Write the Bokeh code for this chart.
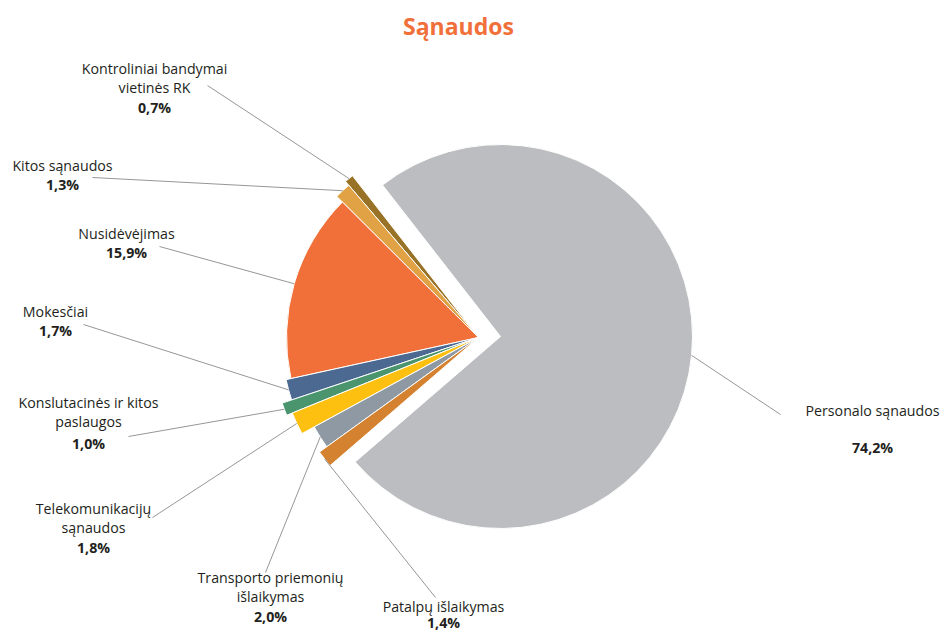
import math
from bokeh.plotting import figure
from bokeh.models import Range1d
from bokeh.core.properties import value
from bokeh.embed import file_html
from bokeh.resources import INLINE

# ---- data (counter-clockwise order, starting with the large slice) ----
title = "Sąnaudos"
categories = [
    ["Personalo sąnaudos"],
    ["Kontroliniai bandymai", "vietinės RK"],
    ["Kitos sąnaudos"],
    ["Nusidėvėjimas"],
    ["Mokesčiai"],
    ["Konslutacinės ir kitos", "paslaugos"],
    ["Telekomunikacijų", "sąnaudos"],
    ["Transporto priemonių", "išlaikymas"],
    ["Patalpų išlaikymas"],
]
shares = [74.2, 0.7, 1.3, 15.9, 1.7, 1.0, 1.8, 2.0, 1.4]

# ---- styling / layout ----
colors = ["#BCBDC1", "#977227", "#E0A244", "#F1703A", "#4C6A91",
          "#4A956E", "#FDC010", "#8E99A3", "#D4822F"]
W, H = 941, 633
def sy(y):
    return H - y

# apex of each wedge (screen px) and radius
apex = [(500, 336)] + [(478, 337)] * 8
radii = [192, 205, 200, 192, 197, 207, 201, 187, 196]
start_deg = 220.8

# label layout: centre x, first-line y, percentage y, leader end point
label_x = [872, 154, 62, 126, 55, 88, 93, 270, 443]
name_y = [410, 68, 165, 233, 311, 402, 508, 577, 606]
pct_y = [447, 107, 184, 252, 330, 443, 547, 616, 622]
leader_end = [(780, 414), (207, 85), (92, 177), (159, 246), (83, 324),
              (128, 436), (152, 517), (265, 572), (435, 597)]

FONT = "Open Sans"
TXT = "#231F20"
FS = "14.2px"

p = figure(width=W, height=H, output_backend="svg", toolbar_location=None,
           x_range=Range1d(0, W), y_range=Range1d(0, H),
           min_border=0, min_border_left=0, min_border_right=0,
           min_border_top=0, min_border_bottom=0)
p.axis.visible = False
p.xgrid.grid_line_color = None
p.ygrid.grid_line_color = None
p.outline_line_color = None
p.background_fill_color = "white"
p.border_fill_color = "white"

total = sum(shares)
ang = math.radians(start_deg)
for i, v in enumerate(shares):
    span = 2 * math.pi * v / total
    a0, a1 = ang, ang + span
    ang = a1
    ax, ay = apex[i]
    p.wedge(x=[ax], y=[sy(ay)], radius=radii[i], start_angle=a0, end_angle=a1,
            fill_color=colors[i], line_color="white", line_width=1)
    mid = (a0 + a1) / 2
    lx0 = ax + radii[i] * math.cos(mid)
    ly0 = sy(ay) + radii[i] * math.sin(mid)
    ex, ey = leader_end[i]
    p.line(x=[lx0, ex], y=[ly0, sy(ey)], line_color="#8A8A8A", line_width=0.9)

    lines = categories[i]
    for k, t in enumerate(lines):
        p.text(x=[label_x[i]], y=[sy(name_y[i] + 19 * k)], text=[t],
               text_font=value(FONT), text_font_size=FS,
               text_color=TXT, text_align="center", text_baseline="middle")
    pct = f"{v:.1f}".replace(".", ",") + "%"
    p.text(x=[label_x[i]], y=[sy(pct_y[i])], text=[pct],
           text_font=value(FONT), text_font_size=FS, text_font_style="bold",
           text_color=TXT, text_align="center", text_baseline="middle")

p.text(x=[458], y=[sy(25)], text=[title], text_font=value(FONT),
       text_font_size="23px", text_font_style="bold", text_color="#F1703A",
       text_align="center", text_baseline="middle")

open("out.html", "w").write(file_html(p, INLINE))
